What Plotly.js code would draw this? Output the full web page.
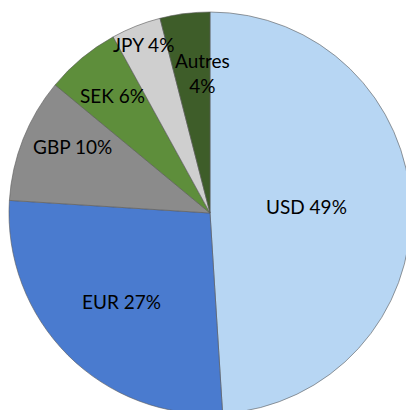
<!DOCTYPE html>
<html>
<head>
<meta charset="utf-8">
<script src="https://cdn.plot.ly/plotly-3.0.1.min.js"></script>
<style>
html,body{margin:0;padding:0;overflow:hidden;background:#fff;width:406px;height:410px;}
#chart{width:420px;height:426px;}
</style>
</head>
<body>
<div id="chart"></div>
<script>
// Data
const labels = ["USD", "EUR", "GBP", "SEK", "JPY", "Autres"];
const values = [49, 27, 10, 6, 4, 4];
const labelText = ["USD 49%", "EUR 27%", "GBP 10%", "SEK 6%", "JPY 4%", "Autres<br>4%"];

// Styles
const colors = ["#B7D6F3", "#4A7BCF", "#8B8B8B", "#5E8E3B", "#CFCFCF", "#3E5D29"];
const labelRadius = [0.48, 0.62, 0.76, 0.76, 0.90, 0.70];
const labelAngleOffset = [-2, 0, 4, 0, 0, 4];

const W = 420, H = 426, ml = 9, mt = 12, side = 402;
const total = values.reduce((a, b) => a + b, 0);
let cum = 0;
const annotations = values.map((v, i) => {
  const mid = (cum + v / 2) / total * 360 + labelAngleOffset[i];
  cum += v;
  const t = mid * Math.PI / 180;
  const r = labelRadius[i] * side / 2;
  const px = ml + side / 2 + r * Math.sin(t);
  const py = mt + side / 2 - r * Math.cos(t);
  return {
    text: labelText[i], xref: "paper", yref: "paper",
    x: (px - ml) / side, y: 1 - (py - mt) / side,
    showarrow: false, xanchor: "center", yanchor: "middle",
    font: {family: "Lato, 'DejaVu Sans', sans-serif", size: 19, color: "#000"}
  };
});

const trace = {
  type: "pie",
  labels: labels,
  values: values,
  sort: false,
  direction: "clockwise",
  rotation: 0,
  textinfo: "none",
  hoverinfo: "none",
  marker: {colors: colors, line: {color: "rgba(90,90,90,0.6)", width: 1}},
  showlegend: false
};

const layout = {
  width: W, height: H,
  margin: {l: ml, r: W - ml - side, t: mt, b: H - mt - side, pad: 0},
  paper_bgcolor: "#fff",
  plot_bgcolor: "#fff",
  showlegend: false,
  annotations: annotations
};

Plotly.newPlot("chart", [trace], layout, {displayModeBar: false, staticPlot: true});
</script>
</body>
</html>
